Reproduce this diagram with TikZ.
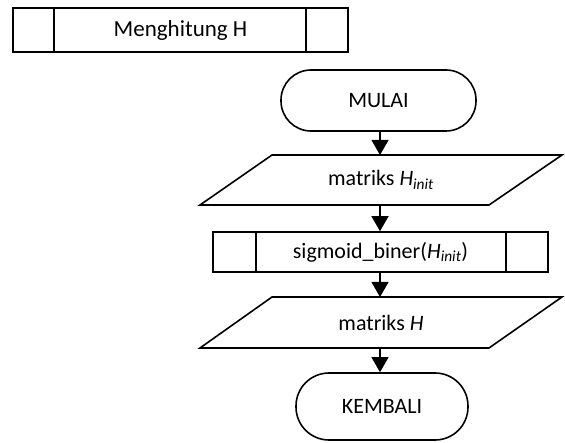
\documentclass[tikz,border=0pt]{standalone}
\usepackage{fontspec}
\setmainfont{Carlito}
\usetikzlibrary{arrows.meta}
\begin{document}
\begin{tikzpicture}[x=1pt,y=1pt,
  every node/.style={font=\fontsize{22}{26}\selectfont, inner sep=0pt},
  line/.style={line width=1.6pt},
  arr/.style={line width=1.2pt, -{Triangle[length=15pt,width=17pt]}},
  term/.style={draw, line width=1.6pt, rounded corners=30pt, minimum width=195pt, minimum height=61pt},
  term2/.style={draw, line width=1.6pt, rounded corners=33pt, minimum width=172pt, minimum height=67pt},
  subbox/.style={draw, line width=1.6pt, minimum height=40pt},
  pbox/.style={minimum width=290pt, minimum height=50pt}
]
\useasboundingbox (0,0) rectangle (565,-443);
% title box
\node[draw, line width=1.6pt, minimum width=335pt, minimum height=44pt, font=\fontsize{23}{27}\selectfont] (title) at (180.5,-30) {Menghitung H};
\draw[line] (54,-8) -- (54,-52);
\draw[line] (306,-8) -- (306,-52);
% MULAI
\node[term] (mulai) at (378.5,-100.5) {MULAI};
% parallelogram 1
\node[pbox] (in1) at (381,-180) {matriks \textit{H}\textsubscript{\textit{init}}};
\draw[line] (272,-155) -- (562,-155) -- (489,-205) -- (200,-205) -- cycle;
% sigmoid box
\node[subbox, minimum width=335pt] (sig) at (380.5,-252) {sigmoid\_biner(\textit{H}\textsubscript{\textit{init}})};
\draw[line] (256,-232) -- (256,-272);
\draw[line] (506,-232) -- (506,-272);
% parallelogram 2
\node[pbox, minimum height=51pt] (in2) at (381,-322.5) {matriks \textit{H}};
\draw[line] (272,-297) -- (562,-297) -- (489,-348) -- (200,-348) -- cycle;
% KEMBALI
\node[term2] (kembali) at (382,-406.5) {KEMBALI};
% arrows
\draw[arr] (mulai.south -| 380,0) -- (380,-155);
\draw[arr] (380,-205) -- (sig.north -| 380,0);
\draw[arr] (sig.south -| 380,0) -- (380,-297);
\draw[arr] (380,-348) -- (kembali.north -| 380,0);
\end{tikzpicture}
\end{document}
